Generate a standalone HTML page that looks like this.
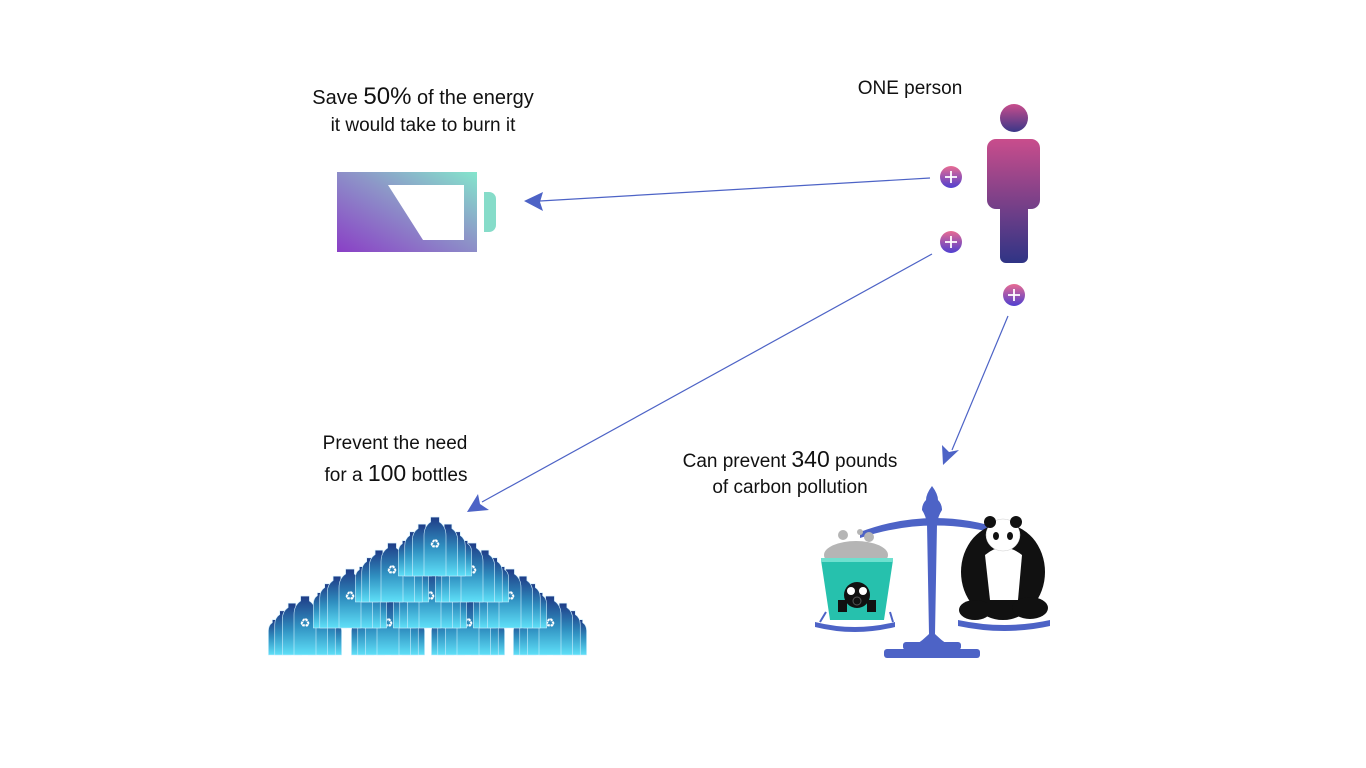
<!DOCTYPE html>
<html><head><meta charset="utf-8"><style>
html,body{margin:0;padding:0;background:#fff;}
svg{display:block;}
text{font-family:"Liberation Sans",sans-serif;fill:#111;}
</style></head><body>
<svg width="1366" height="768" viewBox="0 0 1366 768">
<defs>
<linearGradient id="batt" x1="0" y1="1" x2="1" y2="0"><stop offset="0" stop-color="#8a3fc6"/><stop offset="0.55" stop-color="#8d95c8"/><stop offset="1" stop-color="#84e6cc"/></linearGradient>
<linearGradient id="pers" gradientUnits="userSpaceOnUse" x1="0" y1="139" x2="0" y2="263"><stop offset="0" stop-color="#c94d8c"/><stop offset="1" stop-color="#2f3485"/></linearGradient>
<linearGradient id="head" x1="0" y1="0" x2="0" y2="1"><stop offset="0" stop-color="#c94d8c"/><stop offset="1" stop-color="#3a3788"/></linearGradient>
<linearGradient id="plus" x1="0" y1="0" x2="0" y2="1"><stop offset="0" stop-color="#e86b92"/><stop offset="1" stop-color="#4f3fd0"/></linearGradient>
<linearGradient id="bottle" x1="0" y1="0" x2="0" y2="1"><stop offset="0" stop-color="#1f3b86"/><stop offset="0.5" stop-color="#2f8fc0"/><stop offset="1" stop-color="#5fe0f8"/></linearGradient>
</defs>

<g>
<rect x="337" y="172" width="140" height="80" fill="url(#batt)"/>
<polygon points="388,185 464,185 464,240 423,240" fill="#fff"/>
<path d="M484,192 h5 a7,7 0 0 1 7,7 v26 a7,7 0 0 1 -7,7 h-5 z" fill="#86dcc9"/>
</g>
<text x="423" y="104" text-anchor="middle" font-size="20">Save <tspan font-size="24">50%</tspan> of the energy</text>
<text x="423" y="131" text-anchor="middle" font-size="19">it would take to burn it</text>

<text x="910" y="94" text-anchor="middle" font-size="19">ONE person</text>
<g>
<circle cx="1014" cy="118" r="14" fill="url(#head)"/>
<rect x="987" y="139" width="53" height="70" rx="9" fill="url(#pers)"/>
<rect x="1000" y="195" width="28" height="68" rx="6" fill="url(#pers)"/>
</g>
<g><circle cx="951" cy="177" r="11" fill="url(#plus)"/><path d="M945,177h12M951,171v12" stroke="#fff" stroke-width="1.8"/></g>
<g><circle cx="951" cy="242" r="11" fill="url(#plus)"/><path d="M945,242h12M951,236v12" stroke="#fff" stroke-width="1.8"/></g>
<g><circle cx="1014" cy="295" r="11" fill="url(#plus)"/><path d="M1008,295h12M1014,289v12" stroke="#fff" stroke-width="1.8"/></g>

<g>
<line x1="930" y1="178" x2="540" y2="201" stroke="#4d63c6" stroke-width="1.2"/>
<polygon points="524,201 543,192 540,202 543,211" fill="#4d63c6"/>
</g>
<g>
<line x1="932" y1="254" x2="482" y2="502" stroke="#4d63c6" stroke-width="1.2"/>
<polygon points="467,512 478,494 480,504 489,510" fill="#4d63c6"/>
</g>
<g>
<line x1="1008" y1="316" x2="952" y2="450" stroke="#4d63c6" stroke-width="1.2"/>
<polygon points="943,465 942,445 949,452 959,450" fill="#4d63c6"/>
</g>

<text x="395" y="449" text-anchor="middle" font-size="19">Prevent the need</text>
<text x="396" y="481" text-anchor="middle" font-size="19">for a <tspan font-size="23">100</tspan> bottles</text>
<text x="790" y="467" text-anchor="middle" font-size="19">Can prevent <tspan font-size="23">340</tspan> pounds</text>
<text x="790" y="493" text-anchor="middle" font-size="19">of carbon pollution</text>

<g id="bottles"></g>

<g>
<path d="M860,532 Q932,505 1005,530 L1005,536 Q932,514 860,538 z" fill="#4d63c6"/>
<path d="M932,486 q6,8 6,14 q4,4 4,10 q-4,6 -5,14 l-2,110 q6,6 12,10 l-30,0 q6,-4 12,-10 l-2,-110 q-1,-8 -5,-14 q0,-6 4,-10 q0,-6 6,-14 z" fill="#4d63c6"/>
<rect x="903" y="642" width="58" height="8" rx="3" fill="#4d63c6"/>
<rect x="884" y="649" width="96" height="9" rx="3" fill="#4d63c6"/>
<path d="M815,622 Q855,632 895,622 L895,627 Q855,637 815,627 z" fill="#4d63c6"/>
<path d="M958,620 Q1005,630 1050,620 L1050,626 Q1005,636 958,626 z" fill="#4d63c6"/>
<path d="M826,612 L820,622 M890,612 L893,622" stroke="#4d63c6" stroke-width="2"/>
</g>
<g>
<ellipse cx="856" cy="555" rx="32" ry="14" fill="#b5b5b5"/>
<circle cx="843" cy="535" r="5" fill="#b5b5b5"/><circle cx="869" cy="537" r="5" fill="#b5b5b5"/><circle cx="860" cy="532" r="3" fill="#b5b5b5"/>
<path d="M821,560 L893,560 L884,620 L830,620 z" fill="#26c1ad"/>
<rect x="821" y="558" width="72" height="4" fill="#6ee0cf"/>
<circle cx="857" cy="595" r="13" fill="#111"/><circle cx="851" cy="591" r="4" fill="#fff"/><circle cx="863" cy="591" r="4" fill="#fff"/>
<circle cx="857" cy="601" r="4" fill="none" stroke="#555" stroke-width="1"/>
<rect x="838" y="600" width="9" height="12" fill="#111"/><rect x="867" y="600" width="9" height="12" fill="#111"/>
</g>
<g>
<ellipse cx="1003" cy="572" rx="42" ry="48" fill="#111"/>
<path d="M985,555 Q1003,540 1022,555 L1018,600 L990,600 z" fill="#fff"/>
<ellipse cx="1003" cy="535" rx="17" ry="16" fill="#fff" stroke="#ccc" stroke-width="0.5"/>
<circle cx="990" cy="522" r="6" fill="#111"/><circle cx="1016" cy="522" r="6" fill="#111"/>
<ellipse cx="996" cy="536" rx="3" ry="4" fill="#111"/><ellipse cx="1010" cy="536" rx="3" ry="4" fill="#111"/>
<ellipse cx="975" cy="610" rx="16" ry="10" fill="#111"/><ellipse cx="1030" cy="608" rx="18" ry="11" fill="#111"/>
</g>
</svg>
<script>
const clusterX=[305,388,468,550,350,430,510,392,472,435];
const clusterY=[645,645,645,645,618,618,618,592,592,566];
const g=document.getElementById('bottles');
const NS='http://www.w3.org/2000/svg';
const offs=[-30,30,-22,22,-13,13,0];
const sc=[0.6,0.6,0.75,0.75,0.88,0.88,1];
for(let c=0;c<clusterX.length;c++){
  for(let i=0;i<offs.length;i++){
    const s=sc[i],cx=clusterX[c]+offs[i],by=clusterY[c]+10;
    const w=22*s,h=62*s;
    const p=document.createElementNS(NS,'path');
    p.setAttribute('d',`M${cx-w/2},${by} v${-h*0.65} q0,${-h*0.15} ${w*0.3},${-h*0.22} v${-h*0.08} h${w*0.4} v${h*0.08} q${w*0.3},${h*0.07} ${w*0.3},${h*0.22} v${h*0.65} z`);
    p.setAttribute('fill','url(#bottle)');
    p.setAttribute('stroke','#cfeefc');
    p.setAttribute('stroke-width','0.6');
    
    
    g.appendChild(p);
    if(i===6){
      const t=document.createElementNS(NS,'text');
      t.setAttribute('x',cx);t.setAttribute('y',by-h*0.45);
      t.setAttribute('text-anchor','middle');t.setAttribute('font-size','12');
      t.setAttribute('style','fill:#fff');
      t.textContent='♻';
      
      
      g.appendChild(t);
    }
  }
}
</script>
</body></html>
